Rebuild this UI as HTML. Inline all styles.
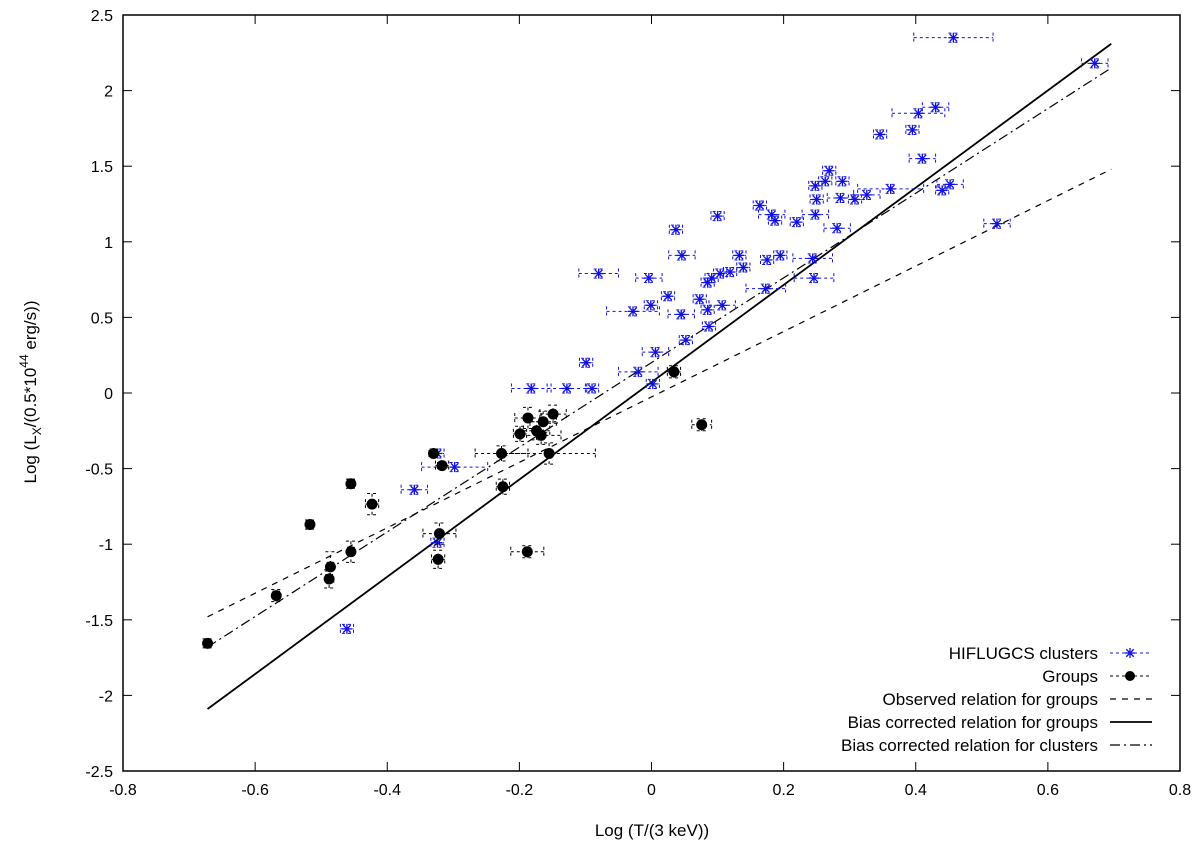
<!DOCTYPE html>
<html><head><meta charset="utf-8"><style>
body{margin:0;background:#fff;}
svg text{font-family:"Liberation Sans",sans-serif;}
</style></head><body>
<svg id="chart" width="1200" height="845" xmlns="http://www.w3.org/2000/svg">
<g id="axes"></g>
<g id="lines"></g>
<g id="pts"></g>
<g id="legend"></g>
<text x="652" y="836" font-size="17" text-anchor="middle">Log (T/(3 keV))</text>
<text transform="translate(36,392) rotate(-90)" font-size="17" text-anchor="middle">Log (L<tspan font-size="12" dy="5">X</tspan><tspan dy="-5">/(0.5*10</tspan><tspan font-size="12" dy="-8">44</tspan><tspan dy="8"> erg/s))</tspan></text>
</svg>
<script>
const xTicks=[-0.8,-0.6,-0.4,-0.2,0,0.2,0.4,0.6,0.8];
const yTicks=[-2.5,-2,-1.5,-1,-0.5,0,0.5,1,1.5,2,2.5];
const clusterX=[0.457,0.430,0.404,0.346,0.395,0.410,0.269,0.263,0.248,0.289,0.250,0.286,0.308,0.326,0.362,0.452,0.440,0.523,0.164,0.182,0.187,0.220,0.248,0.281,0.100,0.037,0.046,0.133,0.195,0.175,0.244,0.246,-0.080,-0.004,0.139,0.119,0.104,0.091,0.085,0.173,0.073,0.085,0.107,0.025,-0.001,-0.028,0.045,0.087,0.052,0.006,-0.099,-0.020,0.002,-0.182,-0.128,-0.090,-0.298,-0.359,-0.324,-0.324,-0.461,0.671];
const clusterY=[2.35,1.89,1.85,1.71,1.74,1.55,1.47,1.40,1.37,1.40,1.28,1.29,1.28,1.31,1.35,1.38,1.34,1.12,1.24,1.18,1.14,1.13,1.18,1.09,1.17,1.08,0.91,0.91,0.91,0.88,0.89,0.76,0.79,0.76,0.83,0.80,0.79,0.76,0.73,0.69,0.62,0.55,0.58,0.64,0.58,0.54,0.52,0.44,0.35,0.27,0.20,0.14,0.06,0.03,0.03,0.03,-0.49,-0.64,-0.40,-0.99,-1.56,2.18];
const clusterXErr=[0.06,0.02,0.04,0.01,0.01,0.02,0.01,0.01,0.01,0.01,0.01,0.02,0.01,0.02,0.05,0.02,0.01,0.02,0.01,0.02,0.01,0.01,0.02,0.02,0.01,0.01,0.02,0.01,0.01,0.01,0.03,0.03,0.03,0.02,0.01,0.01,0.01,0.01,0.01,0.03,0.01,0.01,0.02,0.01,0.01,0.04,0.02,0.01,0.01,0.02,0.01,0.03,0.01,0.03,0.03,0.01,0.05,0.02,0.01,0.01,0.01,0.02];
const groupX=[-0.672,-0.568,-0.517,-0.455,-0.455,-0.486,-0.488,-0.423,-0.330,-0.317,-0.321,-0.323,-0.227,-0.225,-0.199,-0.187,-0.174,-0.164,-0.167,-0.155,-0.149,0.034,0.076,-0.188];
const groupY=[-1.656,-1.34,-0.87,-0.60,-1.05,-1.15,-1.23,-0.735,-0.40,-0.48,-0.93,-1.10,-0.40,-0.62,-0.27,-0.165,-0.25,-0.19,-0.28,-0.40,-0.14,0.14,-0.21,-1.05];
const groupXErr=[0.005,0.005,0.005,0.005,0.005,0.005,0.005,0.01,0.005,0.01,0.025,0.01,0.04,0.01,0.01,0.02,0.02,0.02,0.03,0.07,0.02,0.01,0.015,0.025];
const groupYErr=[0.03,0.04,0.03,0.03,0.07,0.1,0.06,0.07,0.02,0.02,0.07,0.06,0.05,0.05,0.05,0.07,0.06,0.07,0.06,0.07,0.06,0.04,0.04,0.04];
const lineNames=["observed-groups","bias-corrected-groups","bias-corrected-clusters"];
const lineX0=[-0.672,-0.672,-0.672];
const lineY0=[-1.48,-2.09,-1.68];
const lineX1=[0.696,0.696,0.696];
const lineY1=[1.48,2.31,2.15];
const legendLabels=["HIFLUGCS clusters","Groups","Observed relation for groups","Bias corrected relation for groups","Bias corrected relation for clusters"];

const NS="http://www.w3.org/2000/svg";
const L=123,R=1180,T=15,B=771;
const sx=v=>L+(v+0.8)/1.6*(R-L);
const sy=v=>B-(v+2.5)/5*(B-T);
function mk(p,tag,at){const e=document.createElementNS(NS,tag);for(const k in at)e.setAttribute(k,at[k]);p.appendChild(e);return e;}
const ax=document.getElementById('axes');
const frame=mk(ax,'rect',{x:L,y:T,width:R-L,height:B-T,fill:'none',stroke:'#000','stroke-width':1.5});


xTicks.forEach(v=>{const x=sx(v);
 mk(ax,'line',{x1:x,y1:B,x2:x,y2:B-9,stroke:'#000'});mk(ax,'line',{x1:x,y1:T,x2:x,y2:T+9,stroke:'#000'});
 const t=mk(ax,'text',{x:x,y:B+24,'font-size':16,'text-anchor':'middle'});t.textContent=String(v);
 
 });
yTicks.forEach(v=>{const y=sy(v);
 mk(ax,'line',{x1:L,y1:y,x2:L+9,y2:y,stroke:'#000'});mk(ax,'line',{x1:R,y1:y,x2:R-9,y2:y,stroke:'#000'});
 const t=mk(ax,'text',{x:L-10,y:y+6,'font-size':16,'text-anchor':'end'});t.textContent=String(v);
 
 });
const dashes=["6,6","","10,4,2,4"];
const lg=document.getElementById('lines');
for(let i=0;i<3;i++){const l=mk(lg,'line',{x1:sx(lineX0[i]),y1:sy(lineY0[i]),x2:sx(lineX1[i]),y2:sy(lineY1[i]),stroke:'#000','stroke-width':i==1?1.8:1.2,'stroke-dasharray':dashes[i]});
 
 }
function star(g,x,y,c){const r=5;mk(g,'line',{x1:x-r,y1:y,x2:x+r,y2:y,stroke:c,'stroke-width':1.3});mk(g,'line',{x1:x,y1:y-r,x2:x,y2:y+r,stroke:c,'stroke-width':1.3});
 mk(g,'line',{x1:x-r*.75,y1:y-r*.75,x2:x+r*.75,y2:y+r*.75,stroke:c,'stroke-width':1.3});mk(g,'line',{x1:x-r*.75,y1:y+r*.75,x2:x+r*.75,y2:y-r*.75,stroke:c,'stroke-width':1.3});}
function errbar(g,x,y,xe,ye,c){const d="3,3";
 mk(g,'line',{x1:sx(x-xe),y1:sy(y),x2:sx(x+xe),y2:sy(y),stroke:c,'stroke-dasharray':d});
 mk(g,'line',{x1:sx(x),y1:sy(y-ye),x2:sx(x),y2:sy(y+ye),stroke:c,'stroke-dasharray':d});
 mk(g,'line',{x1:sx(x-xe),y1:sy(y)-5,x2:sx(x-xe),y2:sy(y)+5,stroke:c,'stroke-dasharray':d});
 mk(g,'line',{x1:sx(x+xe),y1:sy(y)-5,x2:sx(x+xe),y2:sy(y)+5,stroke:c,'stroke-dasharray':d});
 mk(g,'line',{x1:sx(x)-5,y1:sy(y-ye),x2:sx(x)+5,y2:sy(y-ye),stroke:c,'stroke-dasharray':d});
 mk(g,'line',{x1:sx(x)-5,y1:sy(y+ye),x2:sx(x)+5,y2:sy(y+ye),stroke:c,'stroke-dasharray':d});}
const pg=document.getElementById('pts');
clusterX.forEach((x,i)=>{const g=mk(pg,'g',{});
 
 
 errbar(g,x,clusterY[i],clusterXErr[i],0.03,'#1010e0');star(g,sx(x),sy(clusterY[i]),'#1010e0');});
groupX.forEach((x,i)=>{const g=mk(pg,'g',{});
 
 
 errbar(g,x,groupY[i],groupXErr[i],groupYErr[i],'#000');mk(g,'circle',{cx:sx(x),cy:sy(groupY[i]),r:5.5,fill:'#000'});});
const leg=document.getElementById('legend');
legendLabels.forEach((s,i)=>{const y=653+i*23;const g=mk(leg,'g',{});
 
 
 const t=mk(g,'text',{x:1098,y:y+6,'font-size':17,'text-anchor':'end'});t.textContent=s;
 if(i==0){mk(g,'line',{x1:1110,y1:y,x2:1150,y2:y,stroke:'#1010e0','stroke-dasharray':'3,3'});star(g,1130,y,'#1010e0');}
 else if(i==1){mk(g,'line',{x1:1110,y1:y,x2:1150,y2:y,stroke:'#000','stroke-dasharray':'3,3'});mk(g,'circle',{cx:1130,cy:y,r:5,fill:'#000'});}
 else mk(g,'line',{x1:1110,y1:y,x2:1152,y2:y,stroke:'#000','stroke-width':i==3?1.8:1.2,'stroke-dasharray':dashes[i-2]});});
</script>
</body></html>
